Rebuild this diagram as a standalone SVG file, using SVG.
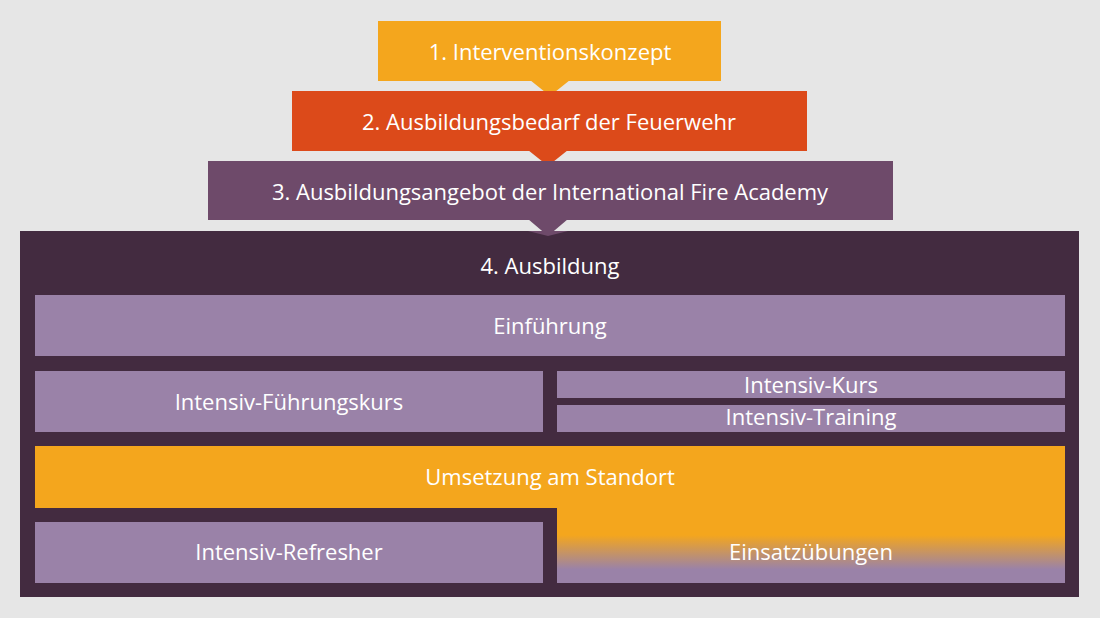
<svg xmlns="http://www.w3.org/2000/svg" width="1100" height="618" viewBox="0 0 1100 618">
<style>
text{font-family:"Open Sans","Liberation Sans",sans-serif;font-size:22px;fill:#fff;text-anchor:middle;dominant-baseline:central}
.p{fill:#9a82a8}
</style>
<defs>
<linearGradient id="g" x1="0" y1="446" x2="0" y2="583" gradientUnits="userSpaceOnUse">
<stop offset="0" stop-color="#f4a61d"/><stop offset="0.65" stop-color="#f4a61d"/><stop offset="0.9" stop-color="#9a82a8"/><stop offset="1" stop-color="#9a82a8"/>
</linearGradient>
</defs>
<rect width="1100" height="618" fill="#e6e6e6"/>
<g id="n1"><rect x="378" y="21" width="343" height="60" fill="#f4a61d"/><polygon points="530,80 570,80 550,96" fill="#f4a61d"/><text x="550" y="51">1. Interventionskonzept</text></g>
<g id="n2"><rect x="292" y="91" width="515" height="60" fill="#dc4a1a"/><polygon points="528,150 568,150 548,166" fill="#dc4a1a"/><text x="549" y="121">2. Ausbildungsbedarf der Feuerwehr</text></g>
<g id="n3"><rect x="208" y="161" width="685" height="59" fill="#6e4a6a"/><polygon points="528,219 568,219 548,236" fill="#6e4a6a"/><text x="550" y="191">3. Ausbildungsangebot der International Fire Academy</text></g>
<g id="n4"><rect x="20" y="231" width="1059" height="366" fill="#432b40"/><polygon points="528,231 568,231 548,236" fill="#6e4a6a"/><text x="550" y="265">4. Ausbildung</text></g>
<g id="einf"><rect class="p" x="35" y="295" width="1030" height="61"/><text x="550" y="325">Einführung</text></g>
<g id="ifk"><rect class="p" x="35" y="371" width="508" height="61"/><text x="289" y="401">Intensiv-Führungskurs</text></g>
<g id="ik"><rect class="p" x="557" y="371" width="508" height="27"/><text x="811" y="384">Intensiv-Kurs</text></g>
<g id="it"><rect class="p" x="557" y="405" width="508" height="27"/><text x="811" y="416">Intensiv-Training</text></g>
<g id="ums"><path d="M35 446H1065V583H557V508H35Z" fill="url(#g)"/><text x="550" y="476">Umsetzung am Standort</text><text x="811" y="551">Einsatzübungen</text></g>
<g id="ir"><rect class="p" x="35" y="522" width="508" height="61"/><text x="289" y="551">Intensiv-Refresher</text></g>
<g id="connectors"></g>
</svg>
